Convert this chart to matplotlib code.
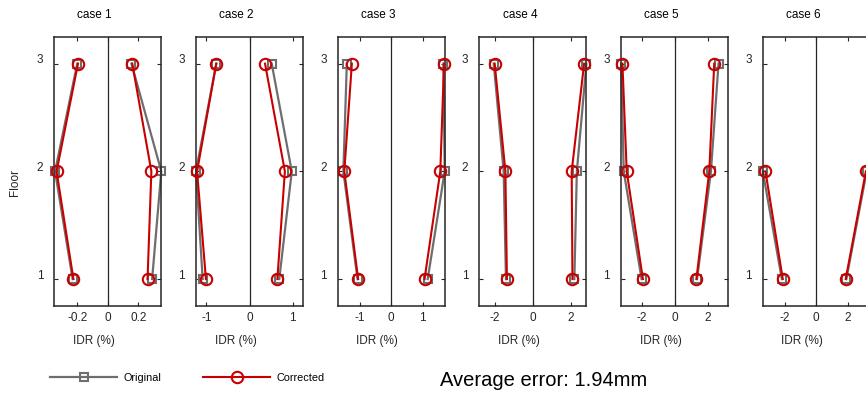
import numpy as np
import matplotlib
matplotlib.use('Agg')
import matplotlib.pyplot as plt
from matplotlib.lines import Line2D
from matplotlib.ticker import MultipleLocator, FuncFormatter
from matplotlib.transforms import ScaledTranslation

plt.rcParams['font.family'] = ['Liberation Sans', 'DejaVu Sans']
plt.rcParams['axes.unicode_minus'] = False

floors = [1, 2, 3]
cases = ['case 1', 'case 2', 'case 3', 'case 4', 'case 5', 'case 6']
tick_step = [0.2, 1, 1, 2, 2, 2]
nan = np.nan

# peak IDR (%) per floor 1..3, negative / positive side
orig_left = [[-0.23, -0.345, -0.20], [-1.085, -1.24, -0.77], [-1.07, -1.52, -1.41],
             [-1.41, -1.53, -2.05], [-2.00, -3.08, -3.24], [-2.19, -3.40, nan]]
corr_left = [[-0.225, -0.335, -0.195], [-1.01, -1.215, -0.77], [-1.05, -1.49, -1.25],
             [-1.36, -1.44, -2.00], [-1.92, -2.90, -3.16], [-2.13, -3.23, nan]]
orig_right = [[0.29, 0.35, 0.155], [0.69, 0.98, 0.515], [1.16, 1.70, 1.66],
              [2.17, 2.30, 2.80], [1.36, 2.20, 2.66], [1.91, 3.20, nan]]
corr_right = [[0.26, 0.285, 0.16], [0.646, 0.82, 0.36], [1.06, 1.56, 1.68],
              [2.07, 2.03, 2.68], [1.32, 2.10, 2.40], [1.87, 3.15, nan]]
avg_error = 1.94

gray = '#6e6e6e'
red = '#c80000'
W, H = 866, 394

orig_style = dict(color=gray, lw=1.6, marker='s', ms=6.3, mfc='none', mec=gray, mew=1.5)
corr_style = dict(color=red, lw=1.5, marker='o', ms=8.2, mfc='none', mec=red, mew=1.5)

fig = plt.figure(figsize=(W / 100, H / 100), dpi=100)

for i, name in enumerate(cases):
    left = 54.3 + i * 141.7
    ax = fig.add_axes([left / W, (H - 306) / H, 107 / W, (306 - 36.7) / H])

    vals = np.array([orig_left[i], corr_left[i], orig_right[i], corr_right[i]], dtype=float)
    xmax = np.nanmax(np.abs(vals))

    ax.axvline(0, color='0.15', lw=0.9, zorder=1)
    for o, c in ((orig_left[i], corr_left[i]), (orig_right[i], corr_right[i])):
        ax.plot(o, floors, zorder=2, clip_on=False, **orig_style)
        ax.plot(c, floors, zorder=3, clip_on=False, **corr_style)

    ax.set_xlim(-xmax, xmax)
    ax.set_ylim(0.75, 3.25)
    ax.set_yticks(floors)
    ax.xaxis.set_major_locator(MultipleLocator(tick_step[i]))
    ax.xaxis.set_major_formatter(FuncFormatter(lambda v, p: f'{round(v, 6) + 0.0:g}'))
    ax.tick_params(direction='in', length=3, width=0.8, labelsize=8.5,
                   top=True, right=True, colors='0.15')
    ax.tick_params(axis='x', pad=4)
    ax.tick_params(axis='y', pad=8)
    for lbl in ax.get_yticklabels():
        lbl.set_transform(lbl.get_transform() + ScaledTranslation(0, 0.05, fig.dpi_scale_trans))
    for s in ax.spines.values():
        s.set_linewidth(1.1)
        s.set_color('0.15')

    ax.text(0.5, 1, name, transform=ax.transAxes + ScaledTranslation(-0.13, 0.22, fig.dpi_scale_trans),
            ha='center', va='center', fontsize=8.5)
    ax.text(0.5, 0, 'IDR (%)', transform=ax.transAxes + ScaledTranslation(-0.14, -0.35, fig.dpi_scale_trans),
            ha='center', va='center', fontsize=8.5, color='0.15')

fig.text(15 / W, (H - 182) / H, 'Floor', rotation=90, ha='center', va='center',
         fontsize=8.5, color='0.15')

handles = [Line2D([], [], **orig_style), Line2D([], [], **corr_style)]
fig.legend(handles, ['Original', 'Corrected'], ncol=2, frameon=False, fontsize=7.8,
           loc='center left', bbox_to_anchor=(50 / W, (H - 378) / H),
           borderpad=0, borderaxespad=0, handlelength=6.2, handletextpad=0.55,
           columnspacing=3.9)

fig.text(440 / W, (H - 381) / H, f'Average error: {avg_error:.2f}mm', ha='left', va='center',
         fontsize=14.5)

fig.savefig('out.png', dpi=100)
